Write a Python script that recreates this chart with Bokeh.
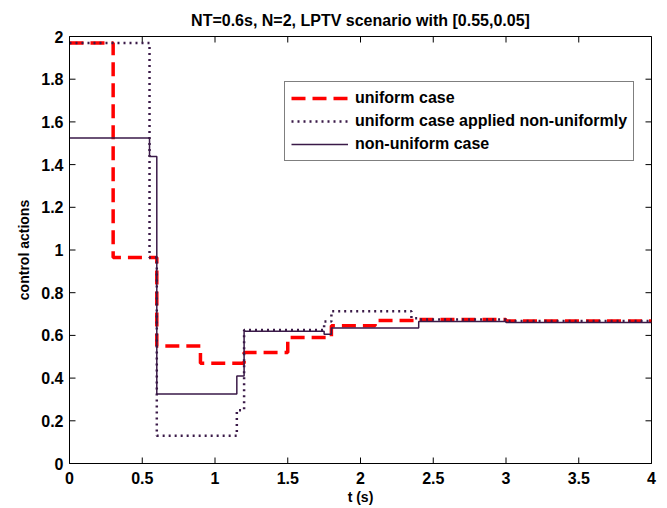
import math
from bokeh.plotting import figure
from bokeh.models import (FixedTicker, Legend, LegendItem, Range1d)
from bokeh.embed import file_html
from bokeh.resources import INLINE

# ---- data (step signals, value held from each time until the next) ----
t_uniform = [0, 0.3, 0.6, 0.9, 1.2, 1.5, 1.8, 2.1, 2.4, 3.0, 4.0]
u_uniform = [1.97, 0.965, 0.55, 0.47, 0.52, 0.59, 0.645, 0.67, 0.675, 0.668, 0.668]

t_applied = [0, 0.55, 0.6, 1.15, 1.2, 1.75, 1.8, 2.35, 2.4, 3.0, 4.0]
u_applied = [1.97, 0.965, 0.13, 0.25, 0.625, 0.665, 0.713, 0.68, 0.675, 0.668, 0.668]

t_nonuni = [0, 0.55, 0.6, 1.15, 1.2, 1.75, 1.8, 2.4, 3.0, 4.0]
u_nonuni = [1.525, 1.438, 0.325, 0.41, 0.62, 0.605, 0.635, 0.665, 0.66, 0.66]

x_ticks = [0, 0.5, 1, 1.5, 2, 2.5, 3, 3.5, 4]
x_tick_labels = ["0", "0.5", "1", "1.5", "2", "2.5", "3", "3.5", "4"]
y_ticks = [0, 0.2, 0.4, 0.6, 0.8, 1.0, 1.2, 1.4, 1.6, 1.8, 2.0]
y_tick_labels = ["0", "0.2", "0.4", "0.6", "0.8", "1", "1.2", "1.4", "1.6", "1.8", "2"]

labels = ["uniform case", "uniform case applied non-uniformly", "non-uniform case"]
title_text = "NT=0.6s, N=2, LPTV scenario with [0.55,0.05]"

X_MIN, X_MAX = 0, 4
Y_MIN, Y_MAX = 0, 2

FONT = "Liberation Sans"
DARK = "#3a1a48"

p = figure(width=667, height=508, output_backend="svg", toolbar_location=None,
           x_range=Range1d(X_MIN, X_MAX), y_range=Range1d(Y_MIN, Y_MAX),
           min_border_left=69, min_border_right=16,
           min_border_top=36, min_border_bottom=45,
           title=title_text)
p.title.align = "center"
p.title.vertical_align = "top"
p.title.text_font = FONT
p.title.text_font_size = "16px"
p.title.text_font_style = "bold"
p.title.text_color = "black"
p.title.standoff = 4
p.title.padding = 4

p.xgrid.visible = False
p.ygrid.visible = False
p.outline_line_color = "black"
p.outline_line_width = 1
p.background_fill_color = "white"
p.border_fill_color = "white"

xo = {float(t): s for t, s in zip(x_ticks, x_tick_labels)}
yo = {float(t): s for t, s in zip(y_ticks, y_tick_labels)}

for ax in p.xaxis:
    ax.ticker = FixedTicker(ticks=x_ticks)
    ax.major_label_overrides = xo
    ax.axis_label = "t (s)"
for ax in p.yaxis:
    ax.ticker = FixedTicker(ticks=y_ticks)
    ax.major_label_overrides = yo
    ax.axis_label = "control actions"

for ax in list(p.xaxis) + list(p.yaxis):
    ax.major_tick_in = 0
    ax.major_tick_out = 0
    ax.minor_tick_in = 0
    ax.minor_tick_out = 0
    ax.axis_line_color = "black"
    ax.major_label_text_font = FONT
    ax.major_label_text_font_style = "bold"
    ax.major_label_text_font_size = "16px"
    ax.major_label_text_color = "black"
    ax.axis_label_text_font = FONT
    ax.axis_label_text_font_style = "bold"
    ax.axis_label_text_font_size = "14px"
    ax.axis_label_text_color = "black"
p.xaxis.major_label_standoff = 8
p.xaxis.axis_label_standoff = 2
p.yaxis.major_label_standoff = 6
p.yaxis.axis_label_standoff = 6

# inward tick marks on all four sides of the box (half of each dash is clipped)
nx, ny = len(x_ticks), len(y_ticks)
p.scatter(x_ticks, [Y_MIN] * nx, marker="dash", angle=math.pi / 2, size=12,
          line_color="black", line_width=1)
p.scatter(x_ticks, [Y_MAX] * nx, marker="dash", angle=math.pi / 2, size=12,
          line_color="black", line_width=1)
p.scatter([X_MIN] * ny, y_ticks, marker="dash", size=12,
          line_color="black", line_width=1)
p.scatter([X_MAX] * ny, y_ticks, marker="dash", size=12,
          line_color="black", line_width=1)

r1 = p.step(t_uniform, u_uniform, mode="after", line_color="red",
            line_width=3.5, line_dash="14 7")
r2 = p.step(t_applied, u_applied, mode="after", line_color=DARK,
            line_width=2.5, line_dash="2 4")
r3 = p.step(t_nonuni, u_nonuni, mode="after", line_color=DARK,
            line_width=1.5)

legend = Legend(items=[LegendItem(label=labels[0], renderers=[r1]),
                       LegendItem(label=labels[1], renderers=[r2]),
                       LegendItem(label=labels[2], renderers=[r3])],
                location=(215, 302),
                border_line_color="black", border_line_width=1,
                background_fill_color="white", background_fill_alpha=1,
                label_text_font=FONT, label_text_font_style="bold",
                label_text_font_size="16px", label_text_color="black",
                glyph_width=57, glyph_height=20, label_height=20,
                label_standoff=7, spacing=3, padding=6, margin=0)
p.add_layout(legend, "center")

open("out.html", "w").write(file_html(p, INLINE))
